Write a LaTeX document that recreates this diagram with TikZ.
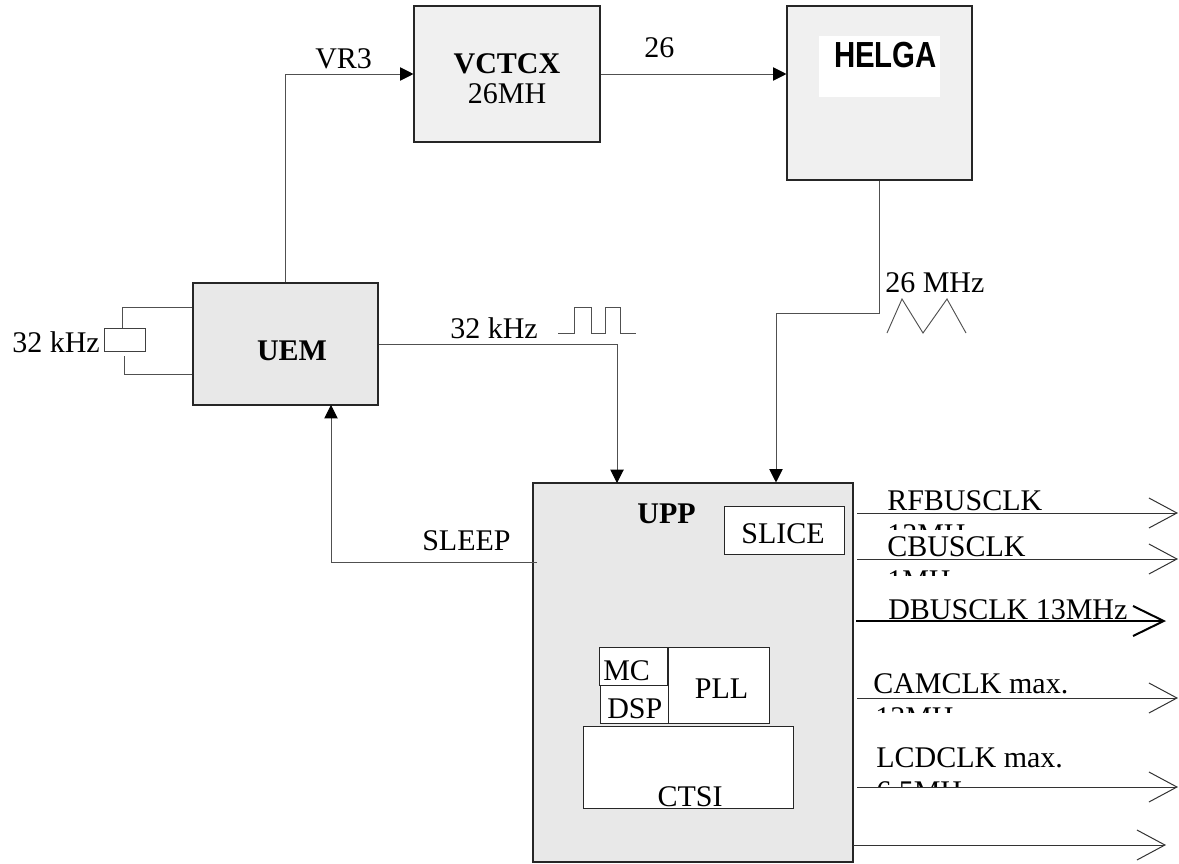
\documentclass[tikz,border=0pt]{standalone}
\usepackage{fontspec}
\setmainfont{Liberation Serif}
\newfontfamily\helgafont{Liberation Sans}
\usetikzlibrary{arrows.meta}
\definecolor{boxA}{HTML}{F0F0F0}
\definecolor{boxB}{HTML}{E8E8E8}
\definecolor{wire}{HTML}{505050}
\begin{document}
\begin{tikzpicture}[x=0.75pt,y=-0.75pt,
  txt/.style={inner sep=0pt, font=\fontsize{22.5}{25.9}\selectfont},
  btxt/.style={inner sep=0pt, font=\fontsize{22.5}{25.9}\selectfont\bfseries},
  blk/.style={draw=black!85, line width=0.8pt, inner sep=0pt},
  wbox/.style={draw=black!85, line width=0.75pt, fill=white, inner sep=0pt},
  conn/.style={draw=wire, line width=0.75pt},
  tri/.style={-{Triangle[length=10pt,width=10pt,color=black]}},
  outarr/.style={draw=black!80, line width=0.75pt, -{Straight Barb[length=21pt,width=22.5pt,line width=0.75pt]}},
  outbold/.style={draw=black, line width=1.5pt, -{Straight Barb[length=23pt,width=22.5pt,line width=1.5pt]}}
]
\useasboundingbox (0,0) rectangle (1179,864);

% main blocks
\node[blk, fill=boxA, minimum width=139.5pt, minimum height=102pt] (vctcx) at (507,74) {};
\node[blk, fill=boxA, minimum width=138.75pt, minimum height=130.5pt] (helga) at (879.5,93) {};
\node[blk, fill=boxB, minimum width=138.75pt, minimum height=91.5pt] (uem) at (285.5,344) {};
\node[blk, fill=boxB, minimum width=240pt, minimum height=284.25pt] (upp) at (693,672.5) {};

% HELGA white plate and label
\node[fill=white, inner sep=0pt, minimum width=90.75pt, minimum height=45.75pt] (hplate) at (879.5,66.5) {};
\node[inner sep=0pt, anchor=base] (helgalbl) at (885.5,67) {\helgafont\fontsize{27.2}{30}\selectfont\bfseries\scalebox{0.81}[1]{HELGA}};

% labels in blocks
\node[btxt, anchor=base] (vctcxl) at (507,73) {VCTCX};
\node[txt, anchor=base] (vctcxf) at (507,103) {26MH};
\node[btxt, anchor=base] (ueml) at (292,360) {UEM};
\node[btxt, anchor=base] (uppl) at (666.5,523) {UPP};

% UPP internals
\node[wbox, minimum width=90pt, minimum height=36pt] (slice) at (784,530) {};
\node[txt, anchor=base] (slicel) at (783,543) {SLICE};
\node[wbox, minimum width=51pt, minimum height=28.5pt] (mc) at (633,666) {};
\node[wbox, minimum width=51pt, minimum height=28.5pt] (dsp) at (634,704) {};
\node[wbox, minimum width=75.75pt, minimum height=57pt] (pll) at (718.5,685) {};
\node[wbox, minimum width=157.5pt, minimum height=61.5pt] (ctsi) at (688,767) {};
\node[txt, anchor=base west] (mcl) at (603,680) {MC};
\node[txt, anchor=base west] (dspl) at (607,718) {DSP};
\node[txt, anchor=base] (plll) at (721.5,698) {PLL};
\node[txt, anchor=base] (ctsil) at (690,806) {CTSI};

% crystal
\node[draw=black!75, line width=0.75pt, fill=white, inner sep=0pt, minimum width=30.75pt, minimum height=17.25pt] (xtal) at (124.5,339.5) {};
\node[txt, anchor=base east] (xtall) at (100,352) {32 kHz};
\coordinate (xt1) at (122,328);
\coordinate (xt2) at (124,356);
\draw[conn] (xt1) |- (uem.west |- 0,307);
\draw[conn] (xt2) |- (uem.west |- 0,374);

% VR3
\draw[conn, tri] (uem.north) |- (vctcx.west);
\node[txt, anchor=base west] (vr3) at (315,68) {VR3};

% 26
\draw[conn, tri] (vctcx.east) -- (vctcx.east -| helga.west);
\node[txt, anchor=base west] (l26) at (644,57) {26};

% HELGA -> UPP
\coordinate (hc) at (776,313);
\draw[conn, tri] (helga.south) |- (hc) -- (hc |- upp.north);
\node[txt, anchor=base west] (l26m) at (885,292) {26 MHz};
\draw[conn, line width=0.7pt] (887,333) -- (902,299) -- (923,333) -- (947,299) -- (966,333);

% UEM -> UPP
\coordinate (uin) at (617,483);
\draw[conn, tri] (uem.east) -| (uin);
\node[txt, anchor=base west] (l32) at (450,338) {32 kHz};
\draw[conn, line width=0.7pt] (558,333) -- (574,333) -- (574,307) -- (591,307) -- (591,333) -- (605,333) -- (605,307) -- (620,307) -- (620,333) -- (636,333);

% SLEEP
\coordinate (sl) at (537,562);
\coordinate (ub) at (331,405);
\draw[conn, tri] (sl) -| (ub);
\node[txt, anchor=base west] (sleep) at (422,550) {SLEEP};

% outputs
\coordinate (o1a) at (857,513); \coordinate (o1b) at (1178,513);
\coordinate (o2a) at (857,559); \coordinate (o2b) at (1178,559);
\coordinate (o3a) at (856,621); \coordinate (o3b) at (1166,621);
\coordinate (o4a) at (857,698); \coordinate (o4b) at (1178,698);
\coordinate (o5a) at (857,787); \coordinate (o5b) at (1178,787);
\coordinate (o6a) at (853,845); \coordinate (o6b) at (1166,845);

\node[txt, anchor=base west] (rf) at (887,510) {RFBUSCLK};
\begin{scope}
  \clip (880,515) rectangle (1060,529.5);
  \node[txt, anchor=base west] (rf2) at (887,544.5) {13MHz};
\end{scope}
\node[txt, anchor=base west] (cb) at (887,556) {CBUSCLK};
\begin{scope}
  \clip (880,562) rectangle (1060,575.5);
  \node[txt, anchor=base west] (cb2) at (887,590.5) {1MHz};
\end{scope}
\node[txt, anchor=base west] (db) at (888,619) {DBUSCLK 13MHz};
\node[txt, anchor=base west] (cam) at (873,693) {CAMCLK max.};
\begin{scope}
  \clip (866,700) rectangle (1080,712.5);
  \node[txt, anchor=base west] (cam2) at (875,727.5) {13MHz};
\end{scope}
\node[txt, anchor=base west] (lcd) at (876,767) {LCDCLK max.};
\begin{scope}
  \clip (866,772) rectangle (1080,786.5);
  \node[txt, anchor=base west] (lcd2) at (876,801.5) {6.5MHz};
\end{scope}

\draw[outarr] (o1a) -- (o1b);
\draw[outarr] (o2a) -- (o2b);
\draw[outbold] (o3a) -- (o3b);
\draw[outarr] (o4a) -- (o4b);
\draw[outarr] (o5a) -- (o5b);
\draw[outarr] (o6a) -- (o6b);
\end{tikzpicture}
\end{document}
